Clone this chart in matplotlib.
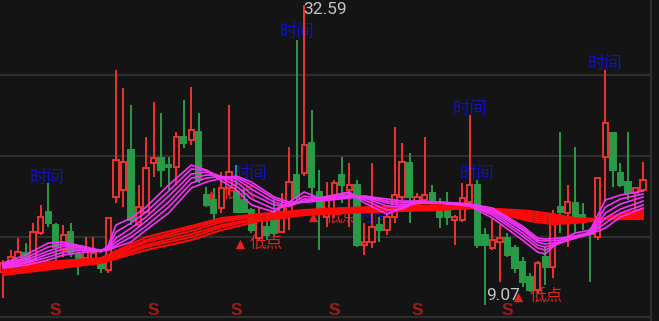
import matplotlib
matplotlib.use('Agg')
import matplotlib.pyplot as plt
from matplotlib.patches import Rectangle

# ---------------- data ----------------
opens = [11.66, 11.97, 12.60, 13.15, 12.60, 14.71, 16.36, 15.34, 13.38, 14.79,
         12.99, 12.75, 12.60, 12.60, 11.81, 17.54, 18.08, 21.22, 15.34, 16.36,
         20.20, 20.59, 20.04, 19.89, 22.24, 22.00, 22.63, 17.69, 17.30, 16.67,
         18.24, 17.93, 17.30, 16.52, 14.32, 15.18, 16.28, 14.79, 16.28, 19.26,
         19.42, 21.77, 17.93, 15.97, 17.54, 19.26, 18.08, 18.48, 13.77, 14.01,
         15.34, 14.95, 15.97, 17.54, 20.20, 16.91, 17.30, 17.85, 16.52, 17.07,
         15.73, 15.73, 17.14, 18.48, 14.56, 13.54, 14.01, 14.32, 13.54, 12.44,
         11.26, 10.24, 12.83, 12.05, 16.75, 16.28, 17.07, 16.12, 14.87, 14.40,
         20.67, 22.55, 19.42, 18.71, 17.85, 18.08]
highs = [12.60, 13.38, 14.32, 13.93, 15.50, 16.91, 18.63, 15.50, 15.34, 15.50,
         13.22, 14.40, 14.40, 12.83, 15.97, 27.49, 26.08, 24.75, 18.48, 22.24,
         24.98, 24.12, 20.67, 22.63, 25.14, 26.16, 24.12, 18.32, 18.24, 19.50,
         24.75, 20.04, 18.08, 16.67, 16.67, 16.28, 17.30, 17.85, 21.46, 29.84,
         32.59, 24.36, 19.65, 18.71, 18.87, 20.67, 20.20, 18.87, 15.50, 20.20,
         15.97, 16.28, 23.02, 21.77, 20.99, 17.85, 22.24, 18.48, 17.46, 17.93,
         16.12, 18.63, 23.96, 18.87, 15.10, 15.89, 15.34, 14.71, 13.77, 12.83,
         11.58, 12.52, 13.62, 16.52, 22.63, 18.48, 21.46, 17.07, 15.10, 19.10,
         27.49, 22.63, 20.20, 22.63, 18.32, 20.28]
lows = [9.62, 11.81, 11.97, 12.20, 12.44, 14.56, 15.18, 12.44, 12.83, 12.83,
        11.42, 12.60, 12.20, 11.58, 11.58, 17.07, 16.75, 15.34, 15.18, 16.28,
        19.10, 18.32, 18.08, 18.48, 21.38, 21.61, 18.63, 16.75, 15.73, 16.28,
        17.69, 16.28, 16.28, 14.71, 14.16, 14.16, 14.48, 14.71, 14.95, 17.30,
        19.18, 17.30, 13.38, 15.18, 15.89, 17.07, 15.18, 13.62, 12.99, 13.54,
        14.01, 14.56, 15.50, 17.30, 15.50, 16.75, 17.07, 16.52, 15.10, 15.34,
        13.77, 15.58, 16.75, 13.54, 9.07, 13.38, 10.87, 12.83, 11.58, 10.48,
        10.09, 10.01, 10.64, 11.19, 14.71, 13.62, 14.71, 14.95, 10.87, 14.16,
        17.14, 18.32, 18.32, 17.30, 16.52, 17.93]
closes = [12.36, 12.83, 13.22, 12.60, 14.79, 15.97, 15.50, 13.62, 14.56, 13.15,
          12.44, 13.22, 13.15, 11.97, 15.89, 20.44, 20.28, 15.73, 16.75, 19.81,
          20.59, 19.65, 19.89, 22.24, 21.77, 22.79, 18.87, 16.91, 16.28, 18.24,
          19.50, 16.36, 16.36, 14.95, 15.73, 14.56, 14.71, 16.75, 18.71, 17.54,
          21.61, 18.32, 16.52, 17.30, 18.63, 18.48, 18.48, 13.77, 14.01, 15.18,
          14.95, 15.97, 17.69, 20.28, 17.54, 17.54, 17.69, 17.30, 15.97, 15.97,
          15.97, 17.46, 18.48, 13.77, 13.77, 14.16, 14.32, 12.99, 11.97, 10.87,
          10.24, 12.36, 12.05, 16.12, 16.36, 17.14, 15.73, 15.58, 14.63, 19.02,
          23.34, 19.65, 18.48, 17.85, 18.24, 18.87]

# short-term average ribbon (6 lines), read at these candle indices
fast_idx = [0, 3, 6, 8, 11, 13, 14, 15, 17, 19, 22, 25, 27, 28, 31, 33, 36, 38,
            40, 42, 46, 48, 51, 53, 55, 58, 62, 65, 69, 71, 72, 74, 76, 78, 80, 82, 85]
fast_1 = [12.36, 12.99, 13.93, 14.01, 13.62, 13.22, 13.77, 15.34, 15.89, 16.75, 18.48, 20.04, 19.65,
          19.18, 18.08, 16.91, 16.36, 17.14, 17.93, 17.46, 17.93, 17.07, 16.20, 16.67, 17.22, 17.07,
          16.83, 15.89, 14.16, 13.22, 13.07, 14.16, 14.71, 14.95, 17.30, 17.69, 18.01]
fast_2 = [12.28, 12.75, 13.62, 13.85, 13.62, 13.30, 13.62, 14.79, 15.50, 16.36, 18.01, 19.73, 19.65,
          19.34, 18.40, 17.38, 16.59, 16.91, 17.61, 17.46, 17.85, 17.30, 16.52, 16.59, 17.14, 17.07,
          16.91, 16.12, 14.48, 13.54, 13.38, 13.93, 14.48, 14.79, 16.75, 17.38, 17.77]
fast_3 = [12.20, 12.60, 13.30, 13.69, 13.54, 13.38, 13.54, 14.32, 15.10, 15.97, 17.61, 19.34, 19.50,
          19.34, 18.71, 17.77, 16.91, 16.83, 17.38, 17.38, 17.69, 17.46, 16.83, 16.75, 17.07, 17.07,
          16.91, 16.28, 14.71, 13.77, 13.62, 13.93, 14.32, 14.71, 16.28, 16.99, 17.54]
fast_4 = [12.13, 12.44, 13.07, 13.46, 13.46, 13.38, 13.46, 14.01, 14.71, 15.65, 17.14, 19.02, 19.26,
          19.26, 18.95, 18.16, 17.14, 16.83, 17.22, 17.30, 17.61, 17.54, 17.07, 16.91, 17.07, 17.07,
          16.91, 16.44, 14.95, 14.01, 13.85, 14.01, 14.32, 14.63, 15.89, 16.59, 17.22]
fast_5 = [12.05, 12.36, 12.83, 13.22, 13.38, 13.38, 13.38, 13.77, 14.40, 15.26, 16.75, 18.63, 19.02,
          19.10, 19.10, 18.48, 17.38, 16.99, 17.14, 17.30, 17.54, 17.61, 17.22, 17.07, 17.14, 17.14,
          16.99, 16.59, 15.10, 14.16, 14.09, 14.16, 14.40, 14.63, 15.50, 16.28, 16.91]
fast_6 = [11.97, 12.20, 12.60, 12.99, 13.22, 13.30, 13.38, 13.62, 14.01, 14.95, 16.28, 18.24, 18.71,
          18.87, 19.18, 18.71, 17.54, 17.14, 17.14, 17.22, 17.46, 17.61, 17.38, 17.22, 17.22, 17.14,
          16.99, 16.67, 15.26, 14.32, 14.24, 14.32, 14.48, 14.63, 15.10, 15.97, 16.67]

# long-term average ribbon (6 lines)
slow_idx = [0, 13, 19, 25, 29, 34, 40, 45, 53, 58, 62, 66, 70, 73, 76, 79, 82, 85]
slow_1 = [12.20, 12.75, 14.40, 15.26, 15.89, 16.20, 16.52, 16.67, 16.83, 16.91, 16.83, 16.20, 15.65, 15.42, 15.50, 15.73, 16.20, 16.59]
slow_2 = [12.05, 12.67, 14.16, 15.10, 15.73, 16.12, 16.44, 16.59, 16.75, 16.83, 16.83, 16.28, 15.81, 15.58, 15.58, 15.73, 16.12, 16.44]
slow_3 = [11.89, 12.60, 14.01, 14.87, 15.58, 16.05, 16.36, 16.52, 16.67, 16.75, 16.75, 16.36, 15.97, 15.73, 15.65, 15.73, 16.05, 16.28]
slow_4 = [11.73, 12.52, 13.77, 14.63, 15.34, 15.89, 16.28, 16.44, 16.59, 16.67, 16.75, 16.44, 16.12, 15.89, 15.73, 15.73, 15.97, 16.12]
slow_5 = [11.58, 12.44, 13.62, 14.40, 15.18, 15.81, 16.20, 16.36, 16.52, 16.59, 16.67, 16.52, 16.28, 16.05, 15.81, 15.81, 15.89, 15.97]
slow_6 = [11.42, 12.36, 13.38, 14.16, 14.95, 15.65, 16.12, 16.28, 16.44, 16.52, 16.67, 16.59, 16.44, 16.20, 15.89, 15.81, 15.81, 15.81]

# annotations
time_x = [5.84, 39.04, 32.80, 62.02, 62.95, 79.95, 49.27]
time_y = [19.02, 30.47, 19.34, 24.43, 19.34, 27.96, 15.97]
time_text = '时间'
low_mark_x = [31.47, 27.62, 41.17, 68.39]
low_mark_y = [13.85, 17.69, 15.97, 9.70]
low_text_x = [32.80, 29.10, 42.80, 70.00]
low_text_y = [13.93, 17.85, 15.97, 9.78]
low_text = '低点'
s_x = [7, 20, 31, 44, 55, 67]
s_y = 8.62
grid_levels = [27.10, 20.75, 14.40, 8.13]

# ---------------- style ----------------
BG = '#141414'
RED = '#EC3430'
GREEN = '#2A9A48'
GRID = '#2E2E2E'
CJK = ['Noto Sans CJK SC', 'DejaVu Sans']

fig = plt.figure(figsize=(6.59, 3.21), dpi=100)
fig.patch.set_facecolor(BG)
ax = fig.add_axes([0, 0, 651 / 659, 1])
ax.set_facecolor(BG)
ax.set_xlim(-0.4, 86.06)
ax.set_ylim(7.82, 32.98)
for s in ['top', 'left', 'bottom']:
    ax.spines[s].set_visible(False)
ax.spines['right'].set_color(GRID)
ax.spines['right'].set_linewidth(1.5)
ax.set_xticks([])
ax.set_yticks([])
for g in grid_levels:
    ax.axhline(g, color=GRID, lw=1.5, zorder=0.5)

# candles
W = 0.7
for i, (o, h, l, c) in enumerate(zip(opens, highs, lows, closes)):
    up = c >= o
    col = RED if up else GREEN
    ax.vlines(i, l, h, color=col, lw=1.4, zorder=2)
    bottom = min(o, c)
    height = max(abs(c - o), 0.08)
    ax.add_patch(Rectangle((i - W / 2, bottom), W, height,
                           facecolor=BG if up else GREEN, edgecolor=col,
                           lw=1.4, zorder=2.5))

# ribbons
for series in [slow_6, slow_5, slow_4, slow_3, slow_2, slow_1]:
    ax.plot(slow_idx, series, color='#FF0A0A', lw=1.5, zorder=3,
            solid_joinstyle='round')
for series in [fast_6, fast_5, fast_4, fast_3, fast_2, fast_1]:
    ax.plot(fast_idx, series, color='#F232F2', lw=1.25, zorder=3.5,
            solid_joinstyle='round')

# labels
for x, y in zip(time_x, time_y):
    ax.text(x, y, time_text, color='#1212C0', fontsize=12.5, family=CJK,
            ha='center', va='center', zorder=1.5)
ax.scatter(low_mark_x, low_mark_y, marker='^', s=45, color='#E82020',
           zorder=1.6, linewidths=0)
for x, y in zip(low_text_x, low_text_y):
    ax.text(x, y, low_text, color='#E02525', fontsize=12, family=CJK,
            ha='left', va='center', zorder=1.5)
for x in s_x:
    ax.text(x, s_y, 'S', color='#9B1B1B', fontsize=12.5, fontweight='bold',
            family='Liberation Sans', ha='center', va='center', zorder=1.5)

imax = max(range(len(highs)), key=lambda k: highs[k])
imin = min(range(len(lows)), key=lambda k: lows[k])
ax.text(imax - 0.1, highs[imax] + 0.2, f'{highs[imax]:.2f}', color='#C4C4C4',
        fontsize=12.5, family='Roboto', ha='left', va='top', zorder=5)
ax.text(imin + 0.2, lows[imin] + 0.15, f'{lows[imin]:.2f}', color='#C4C4C4',
        fontsize=12.5, family='Roboto', ha='left', va='bottom', zorder=5)

fig.savefig('out.png', dpi=100, facecolor=BG)
